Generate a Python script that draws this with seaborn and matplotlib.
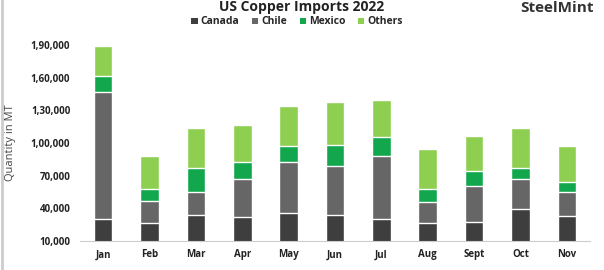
import matplotlib
matplotlib.use("Agg")
import matplotlib.pyplot as plt
import seaborn as sns
import pandas as pd
import numpy as np
from matplotlib.patches import Patch

months = ["Jan", "Feb", "Mar", "Apr", "May", "Jun", "Jul", "Aug", "Sept", "Oct", "Nov"]
canada = [30200, 26800, 33900, 32000, 35700, 33900, 30200, 26800, 27400, 39400, 33200]
chile = [116600, 19900, 21100, 34900, 46600, 45000, 57600, 18700, 33400, 27500, 21800]
mexico = [14700, 11300, 22300, 15700, 15200, 19300, 18000, 12300, 13800, 10400, 8900]
others = [27500, 30400, 36800, 34200, 36800, 39500, 33400, 36400, 31800, 36800, 33100]
yticks = [10000, 40000, 70000, 100000, 130000, 160000, 190000]
ytick_labels = ["10,000", "40,000", "70,000", "1,00,000", "1,30,000", "1,60,000", "1,90,000"]

series = ["Canada", "Chile", "Mexico", "Others"]
colors = {"Canada": "#3e3e3e", "Chile": "#666666", "Mexico": "#12a74c", "Others": "#8ecf52"}

df = pd.DataFrame({"Month": months, "Canada": canada, "Chile": chile,
                   "Mexico": mexico, "Others": others})
cum = df[series].cumsum(axis=1)

sns.set_style("white")
plt.rcParams["font.family"] = ["Open Sans", "DejaVu Sans"]

fig = plt.figure(figsize=(6.04, 2.70), dpi=100)
ax = fig.add_axes([80 / 604, 1 - 241 / 270, 510 / 604, 196 / 270])

for s in reversed(series):
    sns.barplot(x=df["Month"], y=cum[s], color=colors[s], width=0.40,
                ax=ax, saturation=1, order=months)

ax.set_ylim(10000, 190000)
ax.set_xlim(-0.5, len(months) - 0.5)
ax.set_yticks(yticks)
ax.set_yticklabels(ytick_labels, fontsize=7, fontweight="bold", color="#222222")
ax.tick_params(axis="x", labelsize=7, length=0, pad=6, labelcolor="#222222")
for lab in ax.get_xticklabels():
    lab.set_fontweight("bold")
ax.tick_params(axis="y", length=0, pad=7)
ax.set_xlabel("")
ax.set_ylabel("Quantity in MT", fontsize=8, color="#444444")
ax.yaxis.set_label_coords(-64 / 510, 0.5)
for sp in ["top", "right", "left"]:
    ax.spines[sp].set_visible(False)
ax.spines["bottom"].set_color("#cccccc")
ax.spines["bottom"].set_linewidth(0.8)

fig.text(0.5, 1 - 7 / 270, "US Copper Imports 2022", ha="center", va="center",
         fontsize=10, fontweight="bold", color="#222222")

handles = [Patch(facecolor=colors[s], edgecolor="none") for s in series]
fig.legend(handles, series, loc="center", bbox_to_anchor=(297 / 604, 1 - 22 / 270),
           ncol=4, frameon=False, handlelength=0.6, handleheight=0.6,
           columnspacing=1.2, handletextpad=0.3, prop={"weight": "bold", "size": 7.5})

fig.text(1 - 10 / 604, 1 - 8 / 270, "SteelMint", ha="right", va="center",
         fontsize=11, fontweight="bold", color="#333333")

fig.add_artist(plt.Line2D([1.5 / 604, 1.5 / 604], [0, 1], color="#cccccc", lw=2))

fig.savefig("out.png", dpi=100, facecolor="white")
